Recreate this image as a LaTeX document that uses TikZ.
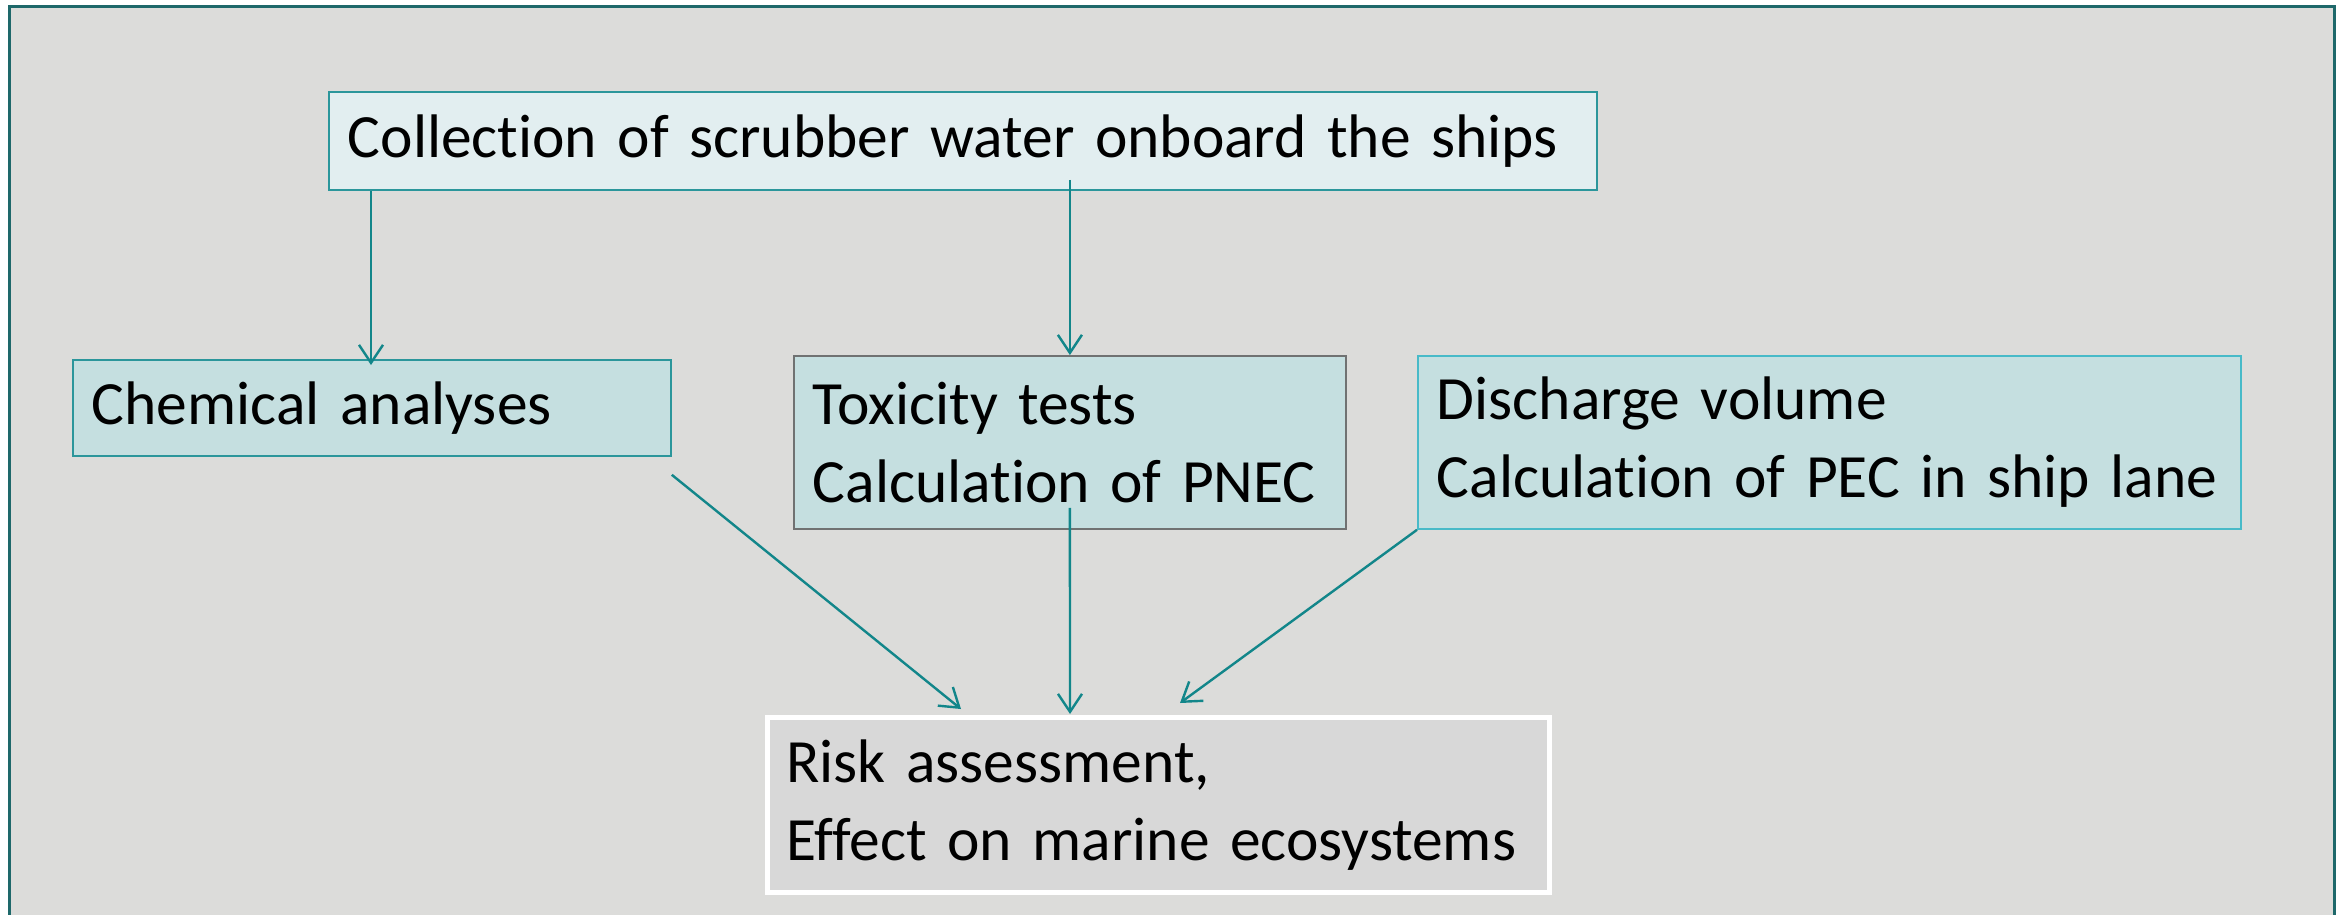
\documentclass[tikz,border=0pt]{standalone}
\usepackage{fontspec}
\setmainfont{Carlito}[Ligatures=NoCommon]
\definecolor{slidebg}{RGB}{220,220,218}
\definecolor{frameteal}{RGB}{30,104,106}
\definecolor{arrowteal}{RGB}{18,134,138}
\definecolor{paleblue}{RGB}{226,238,240}
\definecolor{boxfill}{RGB}{197,223,224}
\definecolor{boxteal}{RGB}{43,150,155}
\definecolor{boxcyan}{RGB}{72,186,200}
\definecolor{boxgray}{RGB}{112,114,114}
\definecolor{riskfill}{RGB}{216,216,216}
\usetikzlibrary{arrows.meta, positioning, calc}

\begin{document}
\begin{tikzpicture}[x=1pt, y=-1pt,
  box/.style={anchor=north west, inner xsep=19pt, inner ysep=0pt, align=left,
    font=\fontsize{61.5}{78}\selectfont, line width=1.8pt},
  flow/.style={arrowteal, line width=2.4pt, -{Straight Barb[length=18pt, width=24pt]}}]
% slide frame
\useasboundingbox (0,0) rectangle (2346,914);
\clip (0,0) rectangle (2346,914);
\fill[white] (0,0) rectangle (2346,914);
\draw[frameteal, line width=3pt, fill=slidebg] (9,6) rectangle (2334,950);
% boxes
\node[box, fill=paleblue, draw=boxteal, minimum width=1268pt, minimum height=98pt, text width=1230pt]
  (collect) at (328,91) {Collection of scrubber water onboard the ships};
\node[box, fill=boxfill, draw=boxteal, minimum width=598pt, minimum height=96pt, text width=560pt]
  (chem) at (72,359) {Chemical analyses};
\node[box, fill=boxfill, draw=boxgray, minimum width=552pt, minimum height=173pt, text width=514pt]
  (tox) at (793,355) {Toxicity tests\\Calculation of PNEC};
\node[box, fill=boxfill, draw=boxcyan, minimum width=823pt, minimum height=173pt, text width=785pt]
  (disch) at (1417,355) {Discharge volume\\Calculation of PEC in ship lane};
\node[box, fill=riskfill, draw=white, line width=4.5pt, minimum width=782pt, minimum height=175pt, text width=744pt]
  (risk) at (765,715) {Risk assessment,\\Effect on marine ecosystems};
% connectors
\draw[flow] ([xshift=43pt]collect.south west) -- ([xshift=299pt,yshift=-6pt]chem.north west);
\draw[flow] ([yshift=11pt]collect.south -| tox.north) -- (tox.north);
\draw[flow] ([yshift=-18pt]chem.south east) -- ([xshift=196pt,yshift=6pt]risk.north west);
\draw[flow] ([yshift=22pt]tox.south) -- ([xshift=305pt,yshift=1pt]risk.north west);
\draw[flow] (disch.south west) -- ([xshift=415pt,yshift=12pt]risk.north west);
\end{tikzpicture}
\end{document}
